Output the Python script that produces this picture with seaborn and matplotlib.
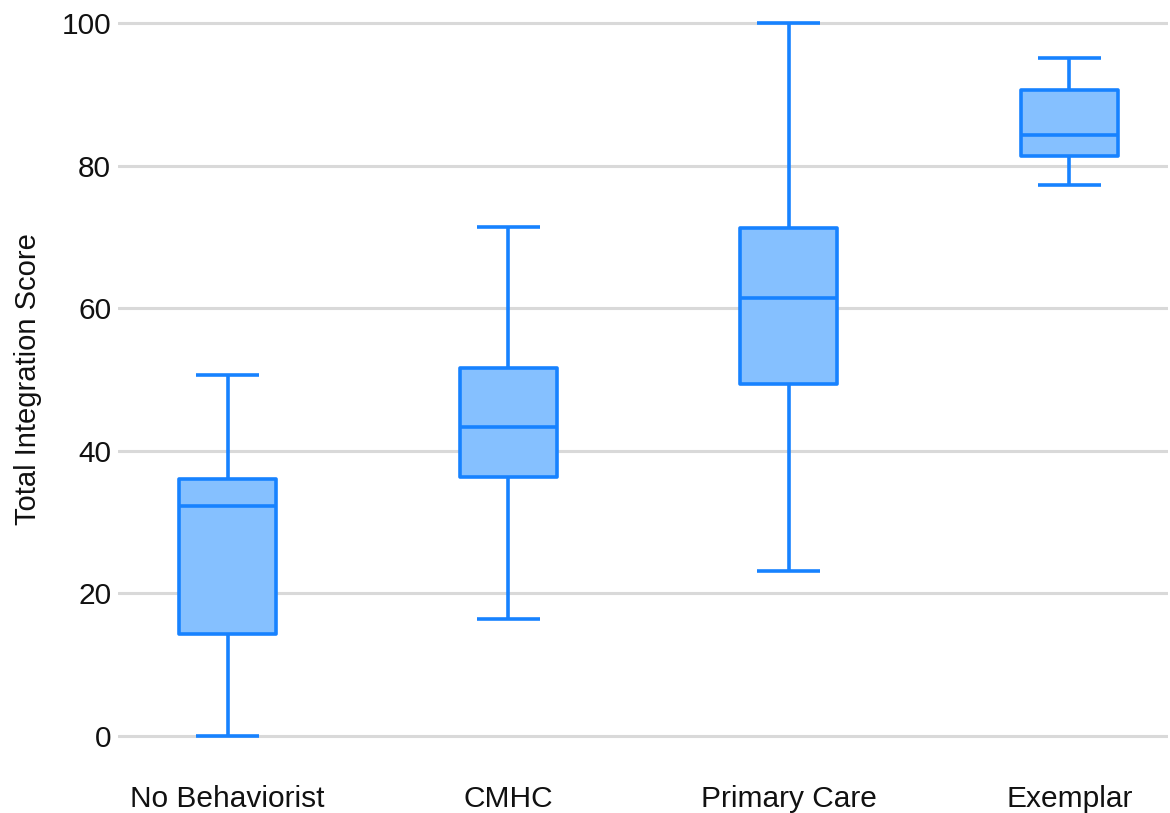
import numpy as np
import pandas as pd
import matplotlib
matplotlib.use("Agg")
import matplotlib.pyplot as plt
import seaborn as sns

categories = ["No Behaviorist", "CMHC", "Primary Care", "Exemplar"]
whisker_low = [0.0, 16.4, 23.1, 77.3]
q1 = [14.3, 36.3, 49.4, 81.3]
median = [32.3, 43.3, 61.4, 84.3]
q3 = [36.0, 51.6, 71.2, 90.6]
whisker_high = [50.6, 71.4, 100.0, 95.1]
yticks = [0, 20, 40, 60, 80, 100]

rows = []
for i, c in enumerate(categories):
    for v in (whisker_low[i], q1[i], median[i], q3[i], whisker_high[i]):
        rows.append({"group": c, "score": v})
df = pd.DataFrame(rows)

sns.set_style("white")
plt.rcParams["font.family"] = ["Liberation Sans", "DejaVu Sans"]

fig = plt.figure(figsize=(11.7, 8.13), dpi=100)
ax = fig.add_axes([0.101, 0.0771, 0.897, 0.9122])

edge = "#1782ff"
face = "#85c0ff"
sns.boxplot(data=df, x="group", y="score", order=categories, ax=ax,
            whis=np.inf, width=0.345, color=face, linecolor=edge,
            linewidth=2.6, saturation=1, capwidths=0.224)

for line in ax.lines:
    line.set_solid_capstyle("butt")
for p in ax.patches:
    p.set_joinstyle("round")

ax.set_xlim(-0.39, 3.35)
ax.set_ylim(-2, 102)
ax.set_yticks(yticks)
ax.yaxis.grid(True, color="#d9d9d9", linewidth=2.2)
ax.set_axisbelow(True)
for s in ax.spines.values():
    s.set_visible(False)
ax.tick_params(axis="both", length=0, labelsize=21.5, colors="#111111")
ax.tick_params(axis="y", pad=5)
ax.tick_params(axis="x", pad=25)
ax.set_xlabel("")
ax.set_ylabel("Total Integration Score", fontsize=21, color="#111111", labelpad=14)

fig.savefig("out.png", dpi=100)
